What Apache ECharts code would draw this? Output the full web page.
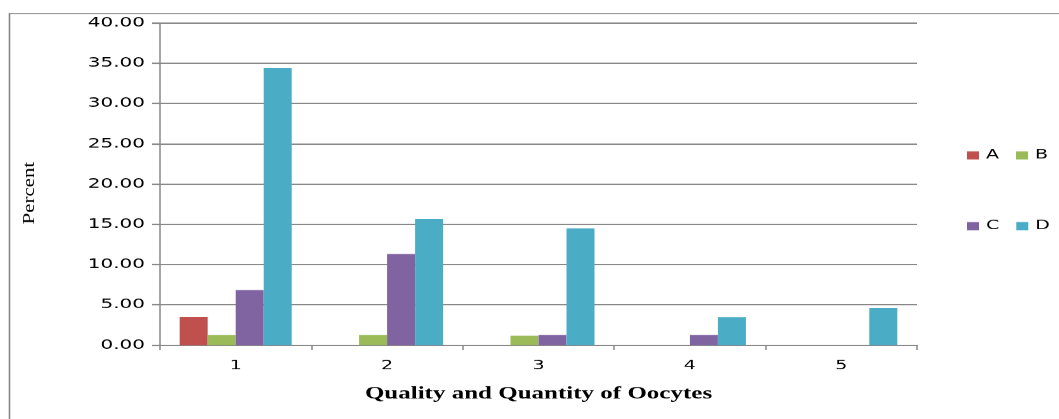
<!DOCTYPE html>
<html>
<head>
<meta charset="utf-8">
<script src="https://cdn.jsdelivr.net/npm/echarts@6/dist/echarts.min.js"></script>
<style>
  html, body { margin: 0; padding: 0; background: #fff; overflow: hidden; }
  #wrap { width: 1059px; height: 419px; overflow: hidden; }
  /* the chart is laid out taller and then pressed flat to its final height */
  #chart { width: 1059px; height: 616px; transform: scaleY(0.68); transform-origin: 0 0; }
</style>
</head>
<body>
<div id="wrap"><div id="chart"></div></div>
<script>
// Oocyte quality/quantity classes and percentage per group
const categories = ['1', '2', '3', '4', '5'];
const seriesNames = ['A', 'B', 'C', 'D'];
const valuesA = [3.50, 0, 0, 0, 0];
const valuesB = [1.24, 1.24, 1.16, 0, 0];
const valuesC = [6.83, 11.30, 1.24, 1.24, 0];
const valuesD = [34.40, 15.65, 14.50, 3.48, 4.60];
const yTicks = { min: 0, max: 40, step: 5 };

const colors = ['#C0504D', '#9BBB59', '#8064A2', '#4BACC6'];
const allValues = [valuesA, valuesB, valuesC, valuesD];
const gridGrey = '#888888';

const chart = echarts.init(document.getElementById('chart'));

const legendCommon = {
  orient: 'horizontal',
  left: 962,
  itemWidth: 12,
  itemHeight: 12,
  itemGap: 17,
  icon: 'rect',
  textStyle: { fontFamily: 'DejaVu Sans', fontSize: 19, color: '#000', padding: [0, 0, 0, 2] },
  selectedMode: false
};

chart.setOption({
  animation: false,
  color: colors,
  graphic: [
    {
      type: 'rect',
      shape: { x: 9.5, y: 19.8, width: 1100, height: 700 },
      style: { fill: 'none', stroke: gridGrey, lineWidth: 1.6 },
      silent: true
    },
    {
      // vertical axis title, stretched along its reading direction
      type: 'text',
      x: 30,
      y: 284,
      rotation: Math.PI / 2,
      scaleX: 1.92,
      style: {
        text: 'Percent',
        fontFamily: 'Liberation Serif',
        fontSize: 16,
        fill: '#000',
        align: 'center',
        verticalAlign: 'middle'
      },
      silent: true
    }
  ],
  legend: [
    Object.assign({}, legendCommon, { data: ['A', 'B'], top: 214 }),
    Object.assign({}, legendCommon, { data: ['C', 'D'], top: 318 })
  ],
  grid: { left: 160, top: 33.8, right: 142, bottom: 108.6, containLabel: false },
  xAxis: {
    type: 'category',
    data: categories,
    name: 'Quality and Quantity of Oocytes',
    nameLocation: 'middle',
    nameGap: 60,
    nameTextStyle: { fontFamily: 'Liberation Serif', fontWeight: 'bold', fontSize: 25, color: '#000' },
    axisLine: { lineStyle: { color: gridGrey, width: 2.2 } },
    axisTick: { show: true, alignWithLabel: false, length: 7.5, lineStyle: { color: gridGrey, width: 1.5 } },
    axisLabel: { fontFamily: 'DejaVu Sans', fontSize: 19, color: '#000', margin: 21 },
    splitLine: { show: false }
  },
  yAxis: {
    type: 'value',
    min: yTicks.min,
    max: yTicks.max,
    interval: yTicks.step,
    axisLine: { show: true, lineStyle: { color: gridGrey, width: 1.5 } },
    axisTick: { show: true, length: 8, lineStyle: { color: gridGrey, width: 2.2 } },
    axisLabel: {
      fontFamily: 'DejaVu Sans', fontSize: 20, color: '#000', margin: 15,
      formatter: v => v.toFixed(2)
    },
    splitLine: { lineStyle: { color: gridGrey, width: 2.2 } }
  },
  series: seriesNames.map((name, i) => ({
    name: name,
    type: 'bar',
    data: allValues[i],
    barGap: '0%',
    barCategoryGap: '26%',
    itemStyle: { color: colors[i] }
  }))
});
</script>
</body>
</html>
